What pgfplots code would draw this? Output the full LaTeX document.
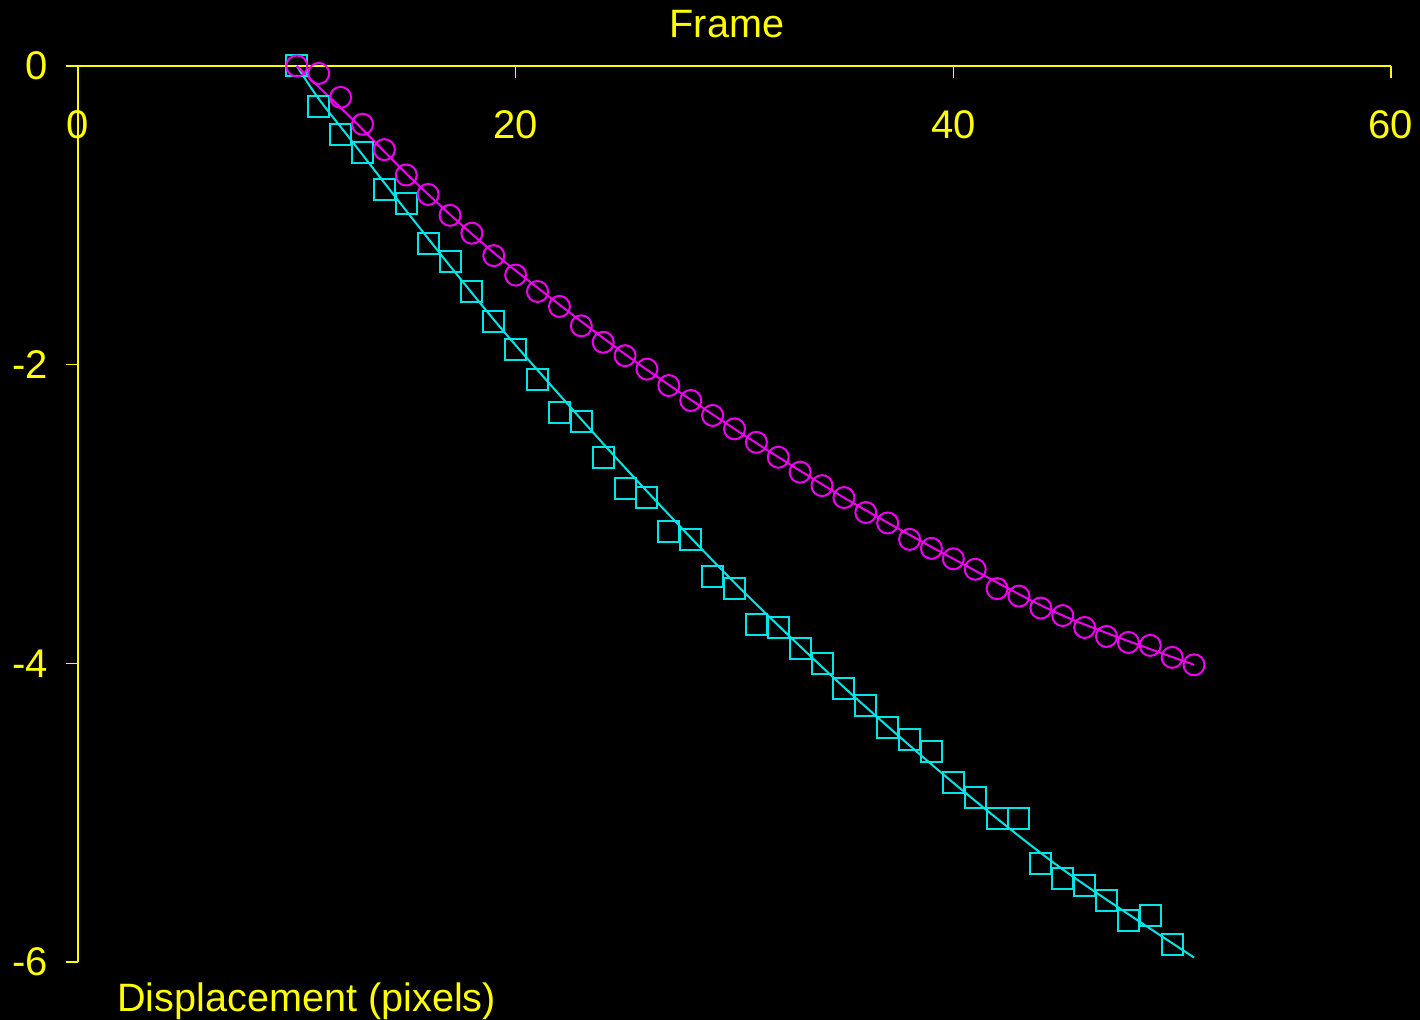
\documentclass[border=0pt]{standalone}
\usepackage{pgfplots}
\pgfplotsset{compat=1.18}
\usepackage{fontspec}
\setmainfont{Liberation Sans}
\definecolor{ay}{RGB}{255,255,0}
\definecolor{cy}{RGB}{0,230,230}
\definecolor{mg}{RGB}{240,0,240}
\begin{document}
\begin{tikzpicture}[font=\fontsize{19.8pt}{24pt}\selectfont]
\fill[black] (-39pt,-29pt) rectangle (671pt,481pt);
\useasboundingbox (-39pt,-29pt) rectangle (671pt,481pt);
\begin{axis}[
  at={(0pt,0pt)}, anchor=south west,
  scale only axis, width=656.5pt, height=448pt,
  xmin=0, xmax=60, ymin=-6, ymax=0,
  axis lines=middle,
  axis line style={-, ay, line width=0.6pt},
  hide obscured x ticks=false, hide obscured y ticks=false,
  xtick={0,20,40,60}, ytick={0,-2,-4,-6},
  minor tick num=0,
  major tick length=6pt,
  tick style={ay, line width=0.6pt},
  xtick style={yshift=-3pt},
  ytick style={xshift=-3pt},
  /pgf/number format/assume math mode=true,
  tick label style={text=ay, inner sep=0pt, font=\fontsize{20pt}{24pt}\selectfont},
  xticklabel style={anchor=base, yshift=-33.5pt},
  yticklabel style={anchor=east, xshift=-12pt},
  clip=false,
]
% fitted line, cyan
\addplot[cy, line width=1pt, smooth, no marks] coordinates {
(10,0) (11,-0.22) (12.5,-0.50) (15,-0.97) (17.5,-1.43) (20,-1.87) (25,-2.69) (30,-3.46) (35,-4.16) (40,-4.80) (45,-5.38) (51,-5.97)};
% fitted line, magenta
\addplot[mg, line width=1pt, smooth, no marks] coordinates {
(10,0) (11,-0.14) (12.5,-0.35) (15,-0.72) (17.5,-1.06) (20,-1.37) (25,-1.93) (30,-2.43) (35,-2.89) (40,-3.30) (45,-3.68) (51,-4.01)};
% squares
\addplot[cy, only marks, mark=square, mark size=5.25pt, mark options={line width=1pt}] coordinates {
(10,0) (11,-0.27) (12,-0.46) (13,-0.58) (14,-0.83) (15,-0.92) (16,-1.19) (17,-1.31) (18,-1.51) (19,-1.71)
(20,-1.90) (21,-2.10) (22,-2.32) (23,-2.38) (24,-2.62) (25,-2.83) (26,-2.89) (27,-3.12) (28,-3.17) (29,-3.42)
(30,-3.50) (31,-3.74) (32,-3.76) (33,-3.90) (34,-4.00) (35,-4.17) (36,-4.28) (37,-4.43) (38,-4.51) (39,-4.59)
(40,-4.80) (41,-4.90) (42,-5.04) (43,-5.04) (44,-5.34) (45,-5.44) (46,-5.49) (47,-5.59) (48,-5.72) (49,-5.69)
(50,-5.88)};
% circles
\addplot[mg, only marks, mark=o, mark size=5.25pt, mark options={line width=1pt}] coordinates {
(10,0) (11,-0.05) (12,-0.21) (13,-0.39) (14,-0.56) (15,-0.73) (16,-0.86) (17,-1.00) (18,-1.12) (19,-1.27)
(20,-1.40) (21,-1.51) (22,-1.61) (23,-1.74) (24,-1.85) (25,-1.94) (26,-2.03) (27,-2.14) (28,-2.24) (29,-2.34)
(30,-2.43) (31,-2.52) (32,-2.62) (33,-2.72) (34,-2.81) (35,-2.89) (36,-2.99) (37,-3.06) (38,-3.17) (39,-3.23)
(40,-3.30) (41,-3.37) (42,-3.50) (43,-3.55) (44,-3.63) (45,-3.68) (46,-3.76) (47,-3.82) (48,-3.86) (49,-3.88)
(50,-3.96) (51,-4.01)};
\end{axis}
\node[anchor=base, text=ay, inner sep=0pt] at (324.5pt,462.2pt) {Frame};
\node[anchor=base west, text=ay, inner sep=0pt] at (19.5pt,-25pt) {Displacement (pixels)};
\end{tikzpicture}
\end{document}
